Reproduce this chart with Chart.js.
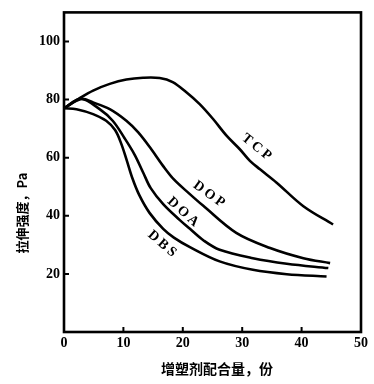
<!DOCTYPE html>
<html>
<head>
<meta charset="utf-8">
<script src="https://cdn.jsdelivr.net/npm/chart.js@4.4.0/dist/chart.umd.min.js"></script>
<style>
html, body { margin: 0; padding: 0; background: #fff; }
#wrap { width: 374px; height: 384px; }
</style>
</head>
<body>
<div id="wrap"><canvas id="chart"></canvas></div>
<script>
// tick values
var xTickValues = [0, 10, 20, 30, 40, 50];
var yTickValues = [20, 40, 60, 80, 100];

// curves (x = 份, y = Pa)
var tcpX = [0, 2.6, 4.9, 7.7, 10.5, 13.3, 16.1, 18.3, 20.6, 22.8, 25.1, 27.4, 29.6, 31.3, 33.0, 35.8, 40.3, 45.3];
var tcpY = [77, 80.4, 83.1, 85.4, 86.9, 87.5, 87.4, 86, 82.5, 78.5, 73.3, 67.5, 62.9, 58.9, 56, 51.4, 43.3, 37];

var dopX = [0, 2.9, 4.9, 7.7, 10.5, 12.5, 14.7, 16.7, 18.5, 21, 23.4, 29, 34.7, 40.3, 44.8];
var dopY = [77, 80.2, 79, 76.7, 72.7, 68.7, 62.9, 57.1, 52.5, 47.8, 43.5, 34.1, 28.9, 25.4, 23.7];

var doaX = [0, 2.8, 6, 8.2, 10.2, 11.9, 13.3, 14.6, 16.7, 19.5, 21.2, 23.5, 26.2, 31.8, 37.5, 44.5];
var doaY = [77, 80.3, 76.7, 72.7, 66.7, 61, 55, 49.5, 44, 38.5, 35.5, 31.5, 28.3, 25.4, 23.5, 22];

var dbsX = [0, 2.1, 4.9, 7.1, 8.6, 9.6, 10.5, 11.5, 12.7, 14.4, 16.7, 18.5, 21.2, 26.2, 31.8, 37.5, 44.2];
var dbsY = [77, 76.7, 75, 72.7, 69.5, 65, 59.5, 53, 47, 41, 35.5, 32.5, 29.2, 24.3, 21.4, 19.9, 19.1];

var seriesNames = ['TCP', 'DOP', 'DOA', 'DBS'];

function toPoints(xs, ys) {
    return xs.map(function (x, i) { return { x: x, y: ys[i] }; });
}

var datasets = [
    toPoints(tcpX, tcpY),
    toPoints(dopX, dopY),
    toPoints(doaX, doaY),
    toPoints(dbsX, dbsY)
].map(function (pts, i) {
    return {
        label: seriesNames[i],
        data: pts,
        borderColor: '#000',
        borderWidth: 2.6,
        pointRadius: 0,
        fill: false,
        tension: 0.35
    };
});

// where the curve names sit (data coords) and their tilt
var curveLabels = [
    { text: 'TCP', x: 32.6, y: 63.3, angle: 39 },
    { text: 'DOP', x: 24.6, y: 47.1, angle: 36 },
    { text: 'DOA', x: 20.2, y: 41.0, angle: 42 },
    { text: 'DBS', x: 16.7, y: 30.0, angle: 41 }
];

var frame = {
    id: 'frame',
    afterDraw: function (chart) {
        var ctx = chart.ctx;
        var a = chart.chartArea;
        var xs = chart.scales.x, ys = chart.scales.y;
        ctx.save();
        ctx.strokeStyle = '#000';
        ctx.lineWidth = 2.6;
        ctx.strokeRect(a.left, a.top, a.right - a.left, a.bottom - a.top);

        // inward ticks
        ctx.lineWidth = 2;
        ctx.beginPath();
        yTickValues.forEach(function (v) {
            var py = ys.getPixelForValue(v);
            ctx.moveTo(a.left, py);
            ctx.lineTo(a.left + 5, py);
        });
        xTickValues.slice(1, -1).forEach(function (v) {
            var px = xs.getPixelForValue(v);
            ctx.moveTo(px, a.bottom);
            ctx.lineTo(px, a.bottom - 5);
        });
        ctx.stroke();

        // curve names
        ctx.fillStyle = '#000';
        ctx.font = 'bold 14px "Liberation Serif"';
        ctx.textAlign = 'center';
        ctx.textBaseline = 'middle';
        ctx.letterSpacing = '3px';
        curveLabels.forEach(function (l) {
            ctx.save();
            ctx.translate(xs.getPixelForValue(l.x), ys.getPixelForValue(l.y));
            ctx.rotate(l.angle * Math.PI / 180);
            ctx.fillText(l.text, 0, 0);
            ctx.restore();
        });
        ctx.letterSpacing = '0px';

        // axis titles
        ctx.font = 'bold 13px "Noto Sans CJK SC"';
        ctx.save();
        ctx.translate(22, 213);
        ctx.rotate(-Math.PI / 2);
        ctx.fillText('拉伸强度，Pa', 0, 0);
        ctx.restore();

        ctx.font = 'bold 14px "Noto Sans CJK SC"';
        ctx.fillText('增塑剂配合量，份', 217, 369);
        ctx.restore();
    }
};

var tickFont = { family: '"Liberation Serif"', size: 14, weight: 'bold' };

new Chart(document.getElementById('chart'), {
    type: 'line',
    data: { datasets: datasets },
    plugins: [frame],
    options: {
        responsive: true,
        maintainAspectRatio: false,
        animation: false,
        layout: { padding: { top: 12, right: 13, left: 0, bottom: 0 } },
        plugins: { legend: { display: false }, tooltip: { enabled: false } },
        scales: {
            x: {
                type: 'linear',
                min: 0,
                max: 50,
                border: { display: false },
                grid: { display: false, drawTicks: false },
                afterBuildTicks: function (s) { s.ticks = xTickValues.map(function (v) { return { value: v }; }); },
                afterFit: function (s) { s.height = 52; },
                ticks: { color: '#000', font: tickFont, padding: 3, maxRotation: 0 }
            },
            y: {
                min: 0,
                max: 110,
                border: { display: false },
                grid: { display: false, drawTicks: false },
                afterBuildTicks: function (s) { s.ticks = yTickValues.map(function (v) { return { value: v }; }); },
                afterFit: function (s) { s.width = 64; },
                ticks: { color: '#000', font: tickFont, padding: 4 }
            }
        }
    }
});
</script>
</body>
</html>
